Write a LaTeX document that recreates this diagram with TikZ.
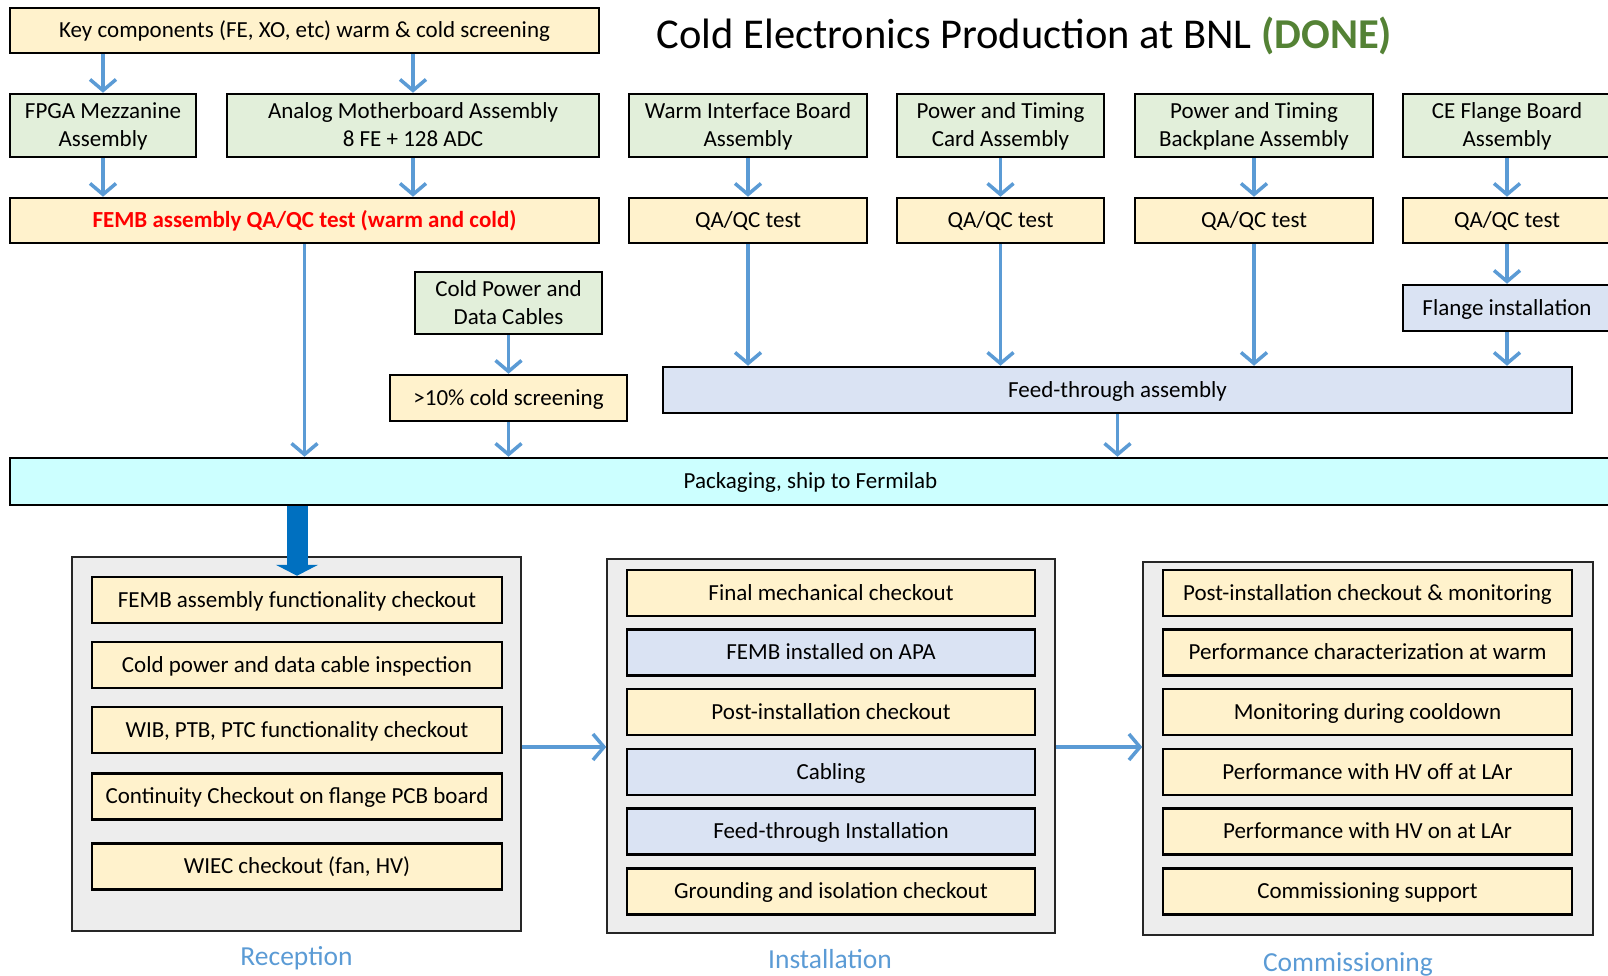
\documentclass[tikz,border=0pt]{standalone}
\usepackage{fontspec}
\setmainfont{Carlito}
\usetikzlibrary{arrows.meta}
\definecolor{yel}{HTML}{FFF2CC}
\definecolor{grn}{HTML}{E2EFDA}
\definecolor{lav}{HTML}{DAE3F3}
\definecolor{cyn}{HTML}{CCFFFF}
\definecolor{gry}{HTML}{EDEDED}
\definecolor{arrblue}{HTML}{5B9BD5}
\definecolor{bigblue}{HTML}{0070C0}
\definecolor{donegreen}{HTML}{548235}
\newcommand{\topstr}{\rule{0pt}{20pt}}
\newcommand{\botstr}{\rule[-5pt]{0pt}{5pt}}
\tikzset{
  basebx/.style={draw=black, line width=2.5pt, inner sep=0pt, align=center, font=\fontsize{23}{28}\selectfont},
  bx/.style={basebx, text height=18.5pt, text depth=4.5pt},
  yb/.style={bx, fill=yel},
  gb/.style={bx, fill=grn},
  tb/.style={basebx, fill=grn},
  lb/.style={bx, fill=lav},
  cb/.style={bx, fill=cyn},
  grp/.style={draw=black!85, line width=1.5pt, fill=gry, inner sep=0pt},
  arr/.style={draw=arrblue, line width=3.5pt, -{Straight Barb[length=11pt,width=26pt]}},
  bigarr/.style={draw=bigblue, line width=21pt, -{Triangle[length=11pt,width=42pt]}},
  lbl/.style={text=arrblue, font=\fontsize{27.5}{30}\selectfont, inner sep=0pt},
}
\begin{document}
\begin{tikzpicture}[x=1pt,y=-1pt]
\useasboundingbox (0,0) rectangle (1608,976);
% title
\node[inner sep=0pt] (title) at (1024.5,36) {\fontsize{42.5}{46}\selectfont Cold Electronics Production at BNL \textcolor{donegreen}{\textbf{(DONE)}}};
% top left
\node[yb, minimum width=589pt, minimum height=45pt] (key) at (304.5,30.5) {Key components (FE, XO, etc) warm \& cold screening};
\node[tb, minimum width=186pt, minimum height=63pt] (fpga) at (103,125.5) {\topstr FPGA Mezzanine\\Assembly\botstr};
\node[tb, minimum width=372pt, minimum height=63pt] (amb) at (413,125.5) {\topstr Analog Motherboard Assembly\\8 FE + 128 ADC\botstr};
\node[yb, minimum width=589pt, minimum height=45pt, text=red, font=\fontsize{23}{28}\selectfont\bfseries] (femb) at (304.5,220.5) {FEMB assembly QA/QC test (warm and cold)};
% top right
\node[tb, minimum width=238pt, minimum height=63pt] (wib) at (748,125.5) {\topstr Warm Interface Board\\Assembly\botstr};
\node[tb, minimum width=207pt, minimum height=63pt] (ptc) at (1000.5,125.5) {\topstr Power and Timing\\Card Assembly\botstr};
\node[tb, minimum width=238pt, minimum height=63pt] (ptb) at (1254,125.5) {\topstr Power and Timing\\Backplane Assembly\botstr};
\node[tb, minimum width=208pt, minimum height=63pt] (ce) at (1507,125.5) {\topstr CE Flange Board\\Assembly\botstr};
\node[yb, minimum width=238pt, minimum height=45pt] (qa1) at (748,220.5) {QA/QC test};
\node[yb, minimum width=207pt, minimum height=45pt] (qa2) at (1000.5,220.5) {QA/QC test};
\node[yb, minimum width=238pt, minimum height=45pt] (qa3) at (1254,220.5) {QA/QC test};
\node[yb, minimum width=208pt, minimum height=45pt] (qa4) at (1507,220.5) {QA/QC test};
\node[lb, minimum width=208pt, minimum height=46pt] (fl) at (1507,308) {Flange installation};
% middle
\node[tb, minimum width=187pt, minimum height=62pt] (cpdc) at (508.5,303) {\topstr Cold Power and\\Data Cables\botstr};
\node[yb, minimum width=237pt, minimum height=46pt] (scr) at (508.5,398) {>10\% cold screening};
\node[lb, minimum width=909pt, minimum height=46pt] (ft) at (1117.5,390) {Feed-through assembly};
\node[cb, minimum width=1601pt, minimum height=47pt] (pack) at (810.5,481.5) {Packaging, ship to Fermilab};
% groups
\node[grp, minimum width=449pt, minimum height=374pt] (rec) at (296.5,744) {};
\node[grp, minimum width=448pt, minimum height=374pt] (ins) at (831,746) {};
\node[grp, minimum width=450pt, minimum height=373pt] (com) at (1368,748.5) {};
% reception
\node[yb, minimum width=410pt, minimum height=46pt] (r1) at (297,600) {FEMB assembly functionality checkout};
\node[yb, minimum width=410pt, minimum height=46pt] (r2) at (297,665) {Cold power and data cable inspection};
\node[yb, minimum width=410pt, minimum height=46pt] (r3) at (297,730) {WIB, PTB, PTC functionality checkout};
\node[yb, minimum width=410pt, minimum height=46pt] (r4) at (297,796.5) {Continuity Checkout on flange PCB board};
\node[yb, minimum width=410pt, minimum height=46pt] (r5) at (297,866.5) {WIEC checkout (fan, HV)};
% installation
\node[yb, minimum width=408pt, minimum height=46pt] (i1) at (831,593) {Final mechanical checkout};
\node[lb, minimum width=408pt, minimum height=46pt] (i2) at (831,652.5) {FEMB installed on APA};
\node[yb, minimum width=408pt, minimum height=46pt] (i3) at (831,712) {Post-installation checkout};
\node[lb, minimum width=408pt, minimum height=46pt] (i4) at (831,772) {Cabling};
\node[lb, minimum width=408pt, minimum height=46pt] (i5) at (831,831.5) {Feed-through Installation};
\node[yb, minimum width=408pt, minimum height=46pt] (i6) at (831,891.5) {Grounding and isolation checkout};
% commissioning
\node[yb, minimum width=409pt, minimum height=46pt] (c1) at (1367.5,593) {Post-installation checkout \& monitoring};
\node[yb, minimum width=409pt, minimum height=46pt] (c2) at (1367.5,652.5) {Performance characterization at warm};
\node[yb, minimum width=409pt, minimum height=46pt] (c3) at (1367.5,712) {Monitoring during cooldown};
\node[yb, minimum width=409pt, minimum height=46pt] (c4) at (1367.5,772) {Performance with HV off at LAr};
\node[yb, minimum width=409pt, minimum height=46pt] (c5) at (1367.5,831.5) {Performance with HV on at LAr};
\node[yb, minimum width=409pt, minimum height=46pt] (c6) at (1367.5,891.5) {Commissioning support};
% labels
\node[lbl] (lrec) at (296.5,958) {Reception};
\node[lbl] (lins) at (830,959) {Installation};
\node[lbl] (lcom) at (1348,964) {Commissioning};
% arrows
\draw[arr] (key.south -| fpga.north) -- (fpga.north);
\draw[arr] (key.south -| amb.north) -- (amb.north);
\draw[arr] (fpga.south) -- (fpga.south |- femb.north);
\draw[arr] (amb.south) -- (amb.south |- femb.north);
\draw[arr] (femb.south) -- (femb.south |- pack.north);
\draw[arr] (cpdc.south) -- (scr.north);
\draw[arr] (scr.south) -- (scr.south |- pack.north);
\draw[arr] (wib.south) -- (qa1.north);
\draw[arr] (ptc.south) -- (qa2.north);
\draw[arr] (ptb.south) -- (qa3.north);
\draw[arr] (ce.south) -- (qa4.north);
\draw[arr] (qa1.south) -- (qa1.south |- ft.north);
\draw[arr] (qa2.south) -- (qa2.south |- ft.north);
\draw[arr] (qa3.south) -- (qa3.south |- ft.north);
\draw[arr] (qa4.south) -- (fl.north);
\draw[arr] (fl.south) -- (fl.south |- ft.north);
\draw[arr] (ft.south) -- (ft.south |- pack.north);
\draw[bigarr] (pack.south -| r1.north) -- (r1.north);
\draw[arr] ([yshift=-3pt]rec.east) -- ([yshift=-3pt]rec.east -| ins.west);
\draw[arr] ([yshift=-3pt]rec.east -| ins.east) -- ([yshift=-3pt]rec.east -| com.west);
\end{tikzpicture}
\end{document}
